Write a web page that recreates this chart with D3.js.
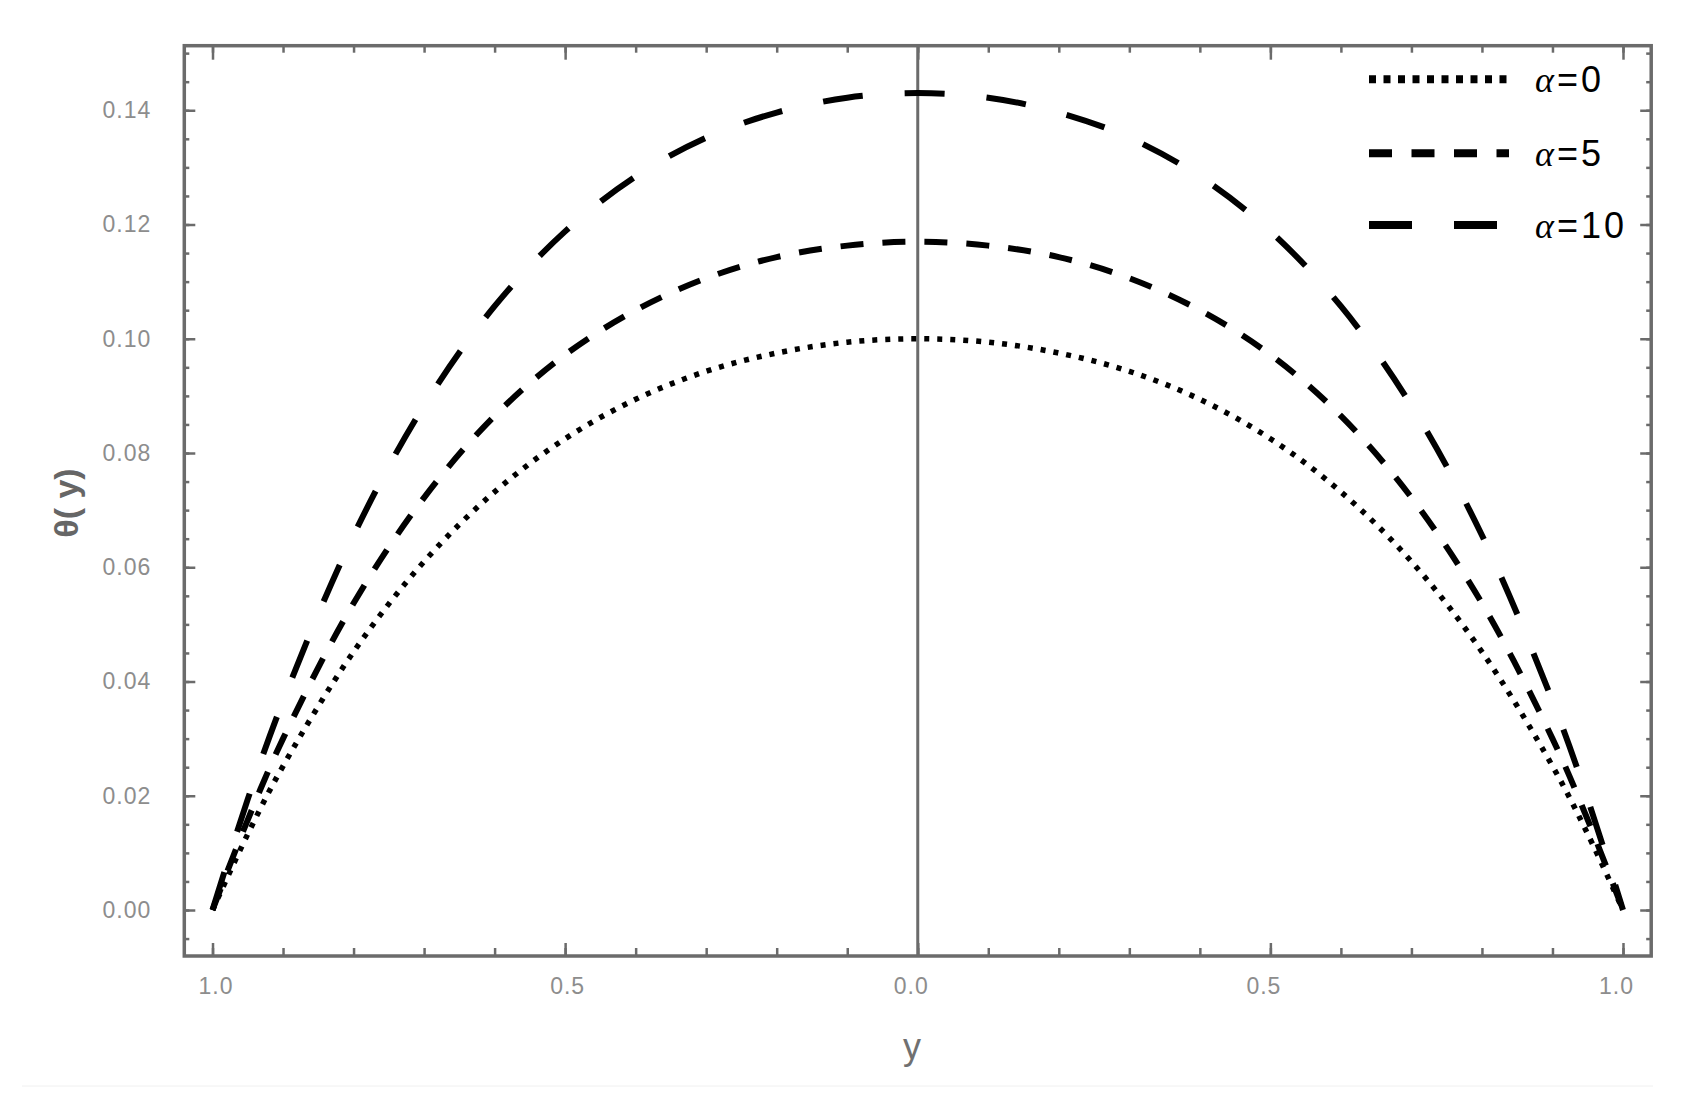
<!DOCTYPE html>
<html><head><meta charset="utf-8">
<script src="https://cdn.jsdelivr.net/npm/d3@7"></script>
<style>
body{margin:0;background:#fff}
text{font-family:"Liberation Sans",Arial,sans-serif}
</style>
</head><body>
<svg id="c" width="1692" height="1111"></svg>
<script>
// ---- data ----
const yPos = [-1,-0.95,-0.9,-0.8,-0.7,-0.6,-0.5,-0.4,-0.3,-0.2,-0.1,0,0.1,0.2,0.3,0.4,0.5,0.6,0.7,0.8,0.9,0.95,1];
const theta0  = [0,0.0133,0.0252,0.0452,0.0610,0.0732,0.0825,0.0894,0.0943,0.0975,0.0994,0.1000,0.0994,0.0975,0.0943,0.0894,0.0825,0.0732,0.0610,0.0452,0.0252,0.0133,0];
const theta5  = [0,0.0158,0.0300,0.0537,0.0722,0.0865,0.0972,0.1050,0.1106,0.1143,0.1163,0.1170,0.1163,0.1143,0.1106,0.1050,0.0972,0.0865,0.0722,0.0537,0.0300,0.0158,0];
const theta10 = [0,0.0194,0.0366,0.0656,0.0883,0.1057,0.1188,0.1284,0.1352,0.1396,0.1422,0.1430,0.1422,0.1396,0.1352,0.1284,0.1188,0.1057,0.0883,0.0656,0.0366,0.0194,0];
const seriesNames = ["0","5","10"];
const xTickValues = [-1,-0.5,0,0.5,1];
const xTickLabels = ["1.0","0.5","0.0","0.5","1.0"];
const xMinorValues = [-1,-0.9,-0.8,-0.7,-0.6,-0.5,-0.4,-0.3,-0.2,-0.1,0,0.1,0.2,0.3,0.4,0.5,0.6,0.7,0.8,0.9,1];
const yTickValues = [0,0.02,0.04,0.06,0.08,0.10,0.12,0.14];
const yTickLabels = ["0.00","0.02","0.04","0.06","0.08","0.10","0.12","0.14"];
const yMinorValues = [-0.005,0,0.005,0.01,0.015,0.02,0.025,0.03,0.035,0.04,0.045,0.05,0.055,0.06,0.065,0.07,0.075,0.08,0.085,0.09,0.095,0.1,0.105,0.11,0.115,0.12,0.125,0.13,0.135,0.14,0.145,0.15];

// ---- layout ----
const L = 184.3, R = 1651.2, T = 45.7, B = 956;
const svg = d3.select("#c");
const x = d3.scaleLinear().domain([-1.04, 1.04]).range([L, R]);
const y = d3.scaleLinear().domain([-0.00805, 0.1513]).range([B, T]);
const frameColor = "#6b6b6b";

// faint rule at bottom
svg.append("line").attr("x1",22).attr("x2",1653).attr("y1",1086).attr("y2",1086)
  .attr("stroke","#f0f0f0").attr("stroke-width",1);

function styleAxis(g){
  g.select(".domain").remove();
  g.selectAll(".tick line").attr("stroke",frameColor).attr("stroke-width",2.5);
  g.selectAll("text").attr("fill","#8d8d8d").style("font-size","23px").style("letter-spacing","1px");
}

// bottom
const xdx = [3,2,-7,-7,-7];
svg.append("g").attr("transform",`translate(0,${B})`)
  .call(d3.axisBottom(x).tickValues(xMinorValues).tickFormat("").tickSizeInner(-8).tickSizeOuter(0)).call(styleAxis);
svg.append("g").attr("transform",`translate(0,${B})`)
  .call(d3.axisBottom(x).tickValues(xTickValues).tickFormat((d,i)=>xTickLabels[i]).tickSizeInner(-13).tickSizeOuter(0).tickPadding(22))
  .call(styleAxis)
  .call(g=>g.selectAll(".tick text").attr("dx",(d,i)=>xdx[i]));
// top
svg.append("g").attr("transform",`translate(0,${T})`)
  .call(d3.axisTop(x).tickValues(xMinorValues).tickFormat("").tickSizeInner(-7).tickSizeOuter(0)).call(styleAxis);
svg.append("g").attr("transform",`translate(0,${T})`)
  .call(d3.axisTop(x).tickValues(xTickValues).tickFormat("").tickSizeInner(-14).tickSizeOuter(0)).call(styleAxis);
// left
svg.append("g").attr("transform",`translate(${L},0)`)
  .call(d3.axisLeft(y).tickValues(yMinorValues).tickFormat("").tickSizeInner(-5).tickSizeOuter(0)).call(styleAxis);
svg.append("g").attr("transform",`translate(${L},0)`)
  .call(d3.axisLeft(y).tickValues(yTickValues).tickFormat((d,i)=>yTickLabels[i]).tickSizeInner(-11).tickSizeOuter(0).tickPadding(33))
  .call(styleAxis);
// right
svg.append("g").attr("transform",`translate(${R},0)`)
  .call(d3.axisRight(y).tickValues(yMinorValues).tickFormat("").tickSizeInner(-5).tickSizeOuter(0)).call(styleAxis);
svg.append("g").attr("transform",`translate(${R},0)`)
  .call(d3.axisRight(y).tickValues(yTickValues).tickFormat("").tickSizeInner(-11).tickSizeOuter(0)).call(styleAxis);

// zero line
svg.append("line").attr("x1",x(0)).attr("x2",x(0)).attr("y1",T).attr("y2",B)
  .attr("stroke",frameColor).attr("stroke-width",3);

// frame
svg.append("rect").attr("x",L).attr("y",T).attr("width",R-L).attr("height",B-T)
  .attr("fill","none").attr("stroke",frameColor).attr("stroke-width",3.5);

// curves
svg.append("clipPath").attr("id","clip").append("rect").attr("x",L).attr("y",T).attr("width",R-L).attr("height",B-T);
const series = [
  {vals: theta0,  dash: "5,8",   w: 5.5},
  {vals: theta5,  dash: "23,19", w: 6},
  {vals: theta10, dash: "40,42", w: 6}
];
const line = d3.line().x(d=>x(d[0])).y(d=>y(d[1])).curve(d3.curveCatmullRom.alpha(0.5));
svg.append("g").attr("clip-path","url(#clip)").selectAll("path").data(series).join("path")
  .attr("d",s=>line(yPos.map((p,i)=>[p,s.vals[i]])))
  .attr("fill","none").attr("stroke","#000").attr("stroke-width",s=>s.w)
  .attr("stroke-dasharray",s=>s.dash);

// legend
const legRows = [79.3,153.3,225];
const legDash = ["7,7.5","23,19.5","43,42"];
const leg = svg.append("g");
seriesNames.forEach((n,i)=>{
  leg.append("line").attr("x1",1369).attr("x2",1509).attr("y1",legRows[i]).attr("y2",legRows[i])
    .attr("stroke","#000").attr("stroke-width",8).attr("stroke-dasharray",legDash[i]);
  const t = leg.append("text").attr("x",1535).attr("y",legRows[i]+13).style("font-size","36px")
    .style("letter-spacing","3px").attr("fill","#000");
  t.append("tspan").text("α").style("font-style","italic").style("font-family","'Liberation Serif',serif");
  t.append("tspan").text("="+n);
});

// axis titles
svg.append("text").attr("x",912).attr("y",1059).attr("text-anchor","middle")
  .style("font-size","36px").attr("fill","#707070").text("y");
svg.append("text").attr("transform","translate(78,503) rotate(-90)").attr("text-anchor","middle")
  .style("font-size","34px").style("font-weight","bold").attr("fill","#666").text("θ( y)");
</script>
</body></html>
